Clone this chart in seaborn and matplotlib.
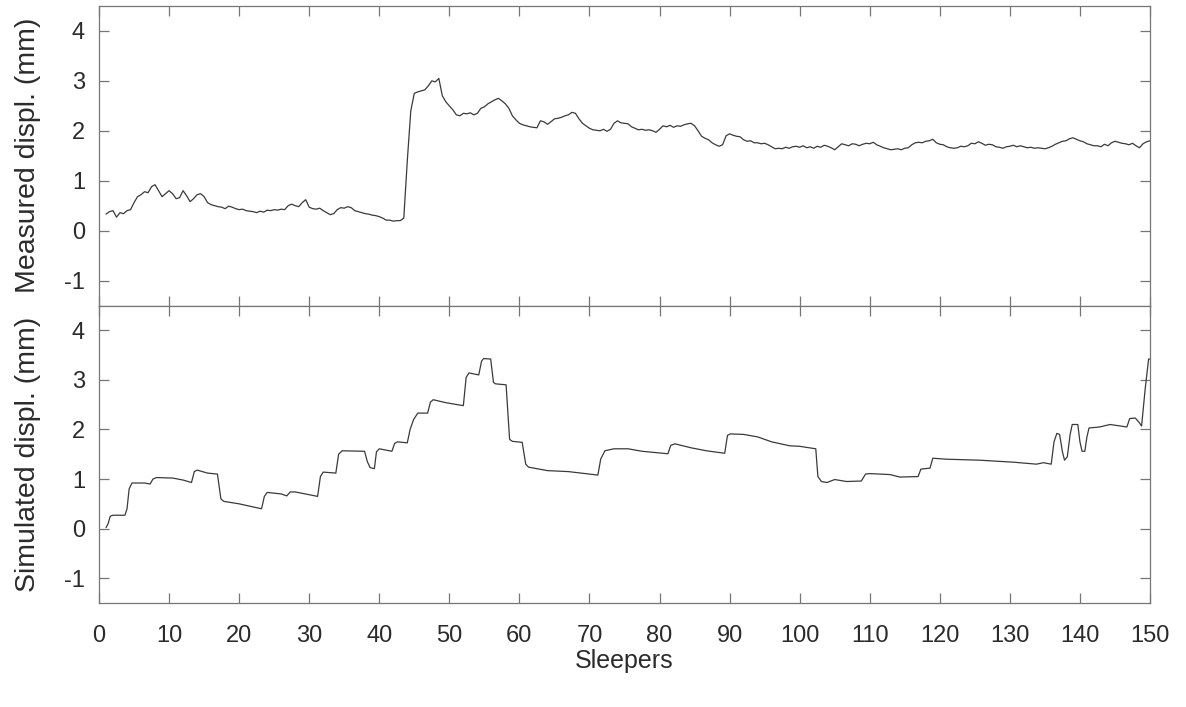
import numpy as np
import pandas as pd
import matplotlib
matplotlib.use("Agg")
import matplotlib.pyplot as plt
import seaborn as sns

# ---------------- data ----------------
meas_x = [1.0 + 0.5 * i for i in range(299)]
meas_y = [
    0.33, 0.38, 0.40, 0.27, 0.36, 0.34, 0.40, 0.42, 0.56, 0.68,
    0.72, 0.78, 0.76, 0.88, 0.92, 0.80, 0.68, 0.74, 0.80, 0.74,
    0.64, 0.66, 0.80, 0.70, 0.58, 0.64, 0.72, 0.74, 0.68, 0.56,
    0.52, 0.50, 0.48, 0.47, 0.44, 0.49, 0.47, 0.44, 0.42, 0.43,
    0.40, 0.39, 0.38, 0.36, 0.39, 0.37, 0.41, 0.40, 0.42, 0.41,
    0.43, 0.42, 0.50, 0.53, 0.50, 0.48, 0.56, 0.62, 0.47, 0.44,
    0.43, 0.45, 0.40, 0.36, 0.32, 0.34, 0.42, 0.46, 0.45, 0.48,
    0.46, 0.40, 0.38, 0.36, 0.34, 0.33, 0.31, 0.30, 0.28, 0.25,
    0.21, 0.21, 0.19, 0.20, 0.20, 0.25, 1.40, 2.40, 2.75, 2.78,
    2.80, 2.82, 2.90, 3.00, 2.98, 3.05, 2.70, 2.58, 2.50, 2.42,
    2.32, 2.30, 2.35, 2.34, 2.36, 2.32, 2.35, 2.45, 2.48, 2.54,
    2.58, 2.62, 2.65, 2.60, 2.54, 2.45, 2.30, 2.22, 2.15, 2.12,
    2.10, 2.08, 2.07, 2.06, 2.20, 2.18, 2.13, 2.18, 2.24, 2.25,
    2.27, 2.30, 2.32, 2.37, 2.35, 2.24, 2.15, 2.10, 2.05, 2.02,
    2.01, 2.00, 2.03, 1.99, 2.03, 2.15, 2.20, 2.16, 2.15, 2.14,
    2.08, 2.05, 2.02, 2.03, 2.01, 2.02, 2.00, 1.97, 2.03, 2.10,
    2.08, 2.11, 2.07, 2.10, 2.09, 2.12, 2.14, 2.15, 2.10, 2.00,
    1.89, 1.85, 1.82, 1.76, 1.72, 1.69, 1.72, 1.90, 1.94, 1.91,
    1.89, 1.88, 1.82, 1.79, 1.80, 1.76, 1.76, 1.74, 1.75, 1.72,
    1.68, 1.64, 1.65, 1.64, 1.67, 1.65, 1.68, 1.69, 1.67, 1.70,
    1.66, 1.68, 1.65, 1.69, 1.67, 1.71, 1.69, 1.66, 1.62, 1.68,
    1.74, 1.72, 1.70, 1.74, 1.73, 1.70, 1.73, 1.75, 1.74, 1.77,
    1.72, 1.69, 1.66, 1.64, 1.62, 1.63, 1.64, 1.62, 1.65, 1.66,
    1.72, 1.76, 1.77, 1.76, 1.79, 1.80, 1.83, 1.76, 1.73, 1.72,
    1.68, 1.66, 1.65, 1.66, 1.69, 1.68, 1.70, 1.75, 1.74, 1.78,
    1.75, 1.71, 1.73, 1.72, 1.68, 1.67, 1.65, 1.68, 1.69, 1.71,
    1.68, 1.70, 1.68, 1.66, 1.67, 1.65, 1.66, 1.65, 1.64, 1.66,
    1.69, 1.73, 1.76, 1.79, 1.80, 1.84, 1.86, 1.83, 1.80, 1.78,
    1.74, 1.72, 1.70, 1.70, 1.68, 1.73, 1.70, 1.76, 1.79, 1.77,
    1.75, 1.74, 1.72, 1.75, 1.70, 1.66, 1.74, 1.78, 1.80,
]

sim_x = [
    1.0, 1.3, 1.6, 2.0, 3.7, 4.0, 4.3, 4.7, 6.5, 7.3, 7.7, 8.2, 10.5, 12.0,
    13.2, 13.6, 14.0, 15.5, 16.9, 17.4, 17.8, 20.0, 23.2, 23.6, 24.0, 26.0,
    26.8, 27.3, 28.0, 31.2, 31.6, 32.0, 33.8, 34.2, 34.7, 37.9, 38.3, 38.7,
    39.3, 39.6, 40.0, 41.8, 42.2, 42.6, 44.0, 44.4, 44.9, 45.5, 46.9, 47.3,
    47.7, 49.5, 52.0, 52.4, 52.8, 54.2, 54.6, 54.9, 55.9, 56.3, 56.6, 58.1,
    58.6, 59.0, 60.4, 60.9, 61.3, 64.0, 67.0, 71.2, 71.6, 72.2, 73.5, 75.5,
    77.5, 81.2, 81.6, 82.2, 84.5, 86.7, 89.3, 89.7, 90.1, 92.0, 94.0, 96.0,
    98.6, 100.0, 102.3, 102.6, 103.1, 103.9, 105.0, 106.7, 108.8, 109.4,
    110.0, 112.9, 114.3, 116.9, 117.3, 118.6, 119.0, 121.0, 125.7, 130.5,
    133.8, 134.8, 135.9, 136.3, 136.7, 137.1, 137.5, 137.8, 138.2, 138.6,
    138.9, 139.7, 140.0, 140.3, 140.7, 141.0, 141.3, 142.8, 144.3, 146.7,
    147.1, 147.9, 148.4, 148.8, 149.3, 149.8, 150.0,
]
sim_y = [
    0.02, 0.10, 0.25, 0.27, 0.27, 0.40, 0.80, 0.92, 0.92, 0.90, 1.00, 1.03, 1.02, 0.98,
    0.93, 1.15, 1.18, 1.12, 1.10, 0.60, 0.55, 0.50, 0.40, 0.65, 0.73, 0.70,
    0.66, 0.74, 0.74, 0.65, 1.05, 1.14, 1.12, 1.50, 1.57, 1.56, 1.35, 1.23,
    1.21, 1.55, 1.61, 1.56, 1.72, 1.75, 1.73, 2.00, 2.20, 2.33, 2.33, 2.55,
    2.60, 2.54, 2.48, 3.05, 3.14, 3.10, 3.38, 3.43, 3.42, 2.95, 2.92, 2.90,
    1.80, 1.76, 1.74, 1.30, 1.24, 1.17, 1.15, 1.08, 1.40, 1.57, 1.61, 1.61,
    1.56, 1.51, 1.68, 1.71, 1.63, 1.57, 1.52, 1.88, 1.91, 1.90, 1.85, 1.75,
    1.67, 1.66, 1.61, 1.05, 0.95, 0.93, 0.99, 0.95, 0.96, 1.10,
    1.11, 1.09, 1.04, 1.05, 1.20, 1.22, 1.42, 1.40, 1.38, 1.34,
    1.30, 1.33, 1.30, 1.75, 1.92, 1.90, 1.55, 1.38, 1.45, 1.90,
    2.10, 2.10, 1.75, 1.56, 1.56, 1.85, 2.03, 2.05, 2.10, 2.05,
    2.22, 2.23, 2.15, 2.07, 2.80, 3.42, 3.42,
]

y_ticks = [4, 3, 2, 1, 0, -1]
x_ticks = [0, 10, 20, 30, 40, 50, 60, 70, 80, 90, 100, 110, 120, 130, 140, 150]
x_label = "Sleepers"
y_label_top = "Measured displ. (mm)"
y_label_bottom = "Simulated displ. (mm)"

# ---------------- style ----------------
sns.set_theme(style="white")
plt.rcParams["font.family"] = ["Liberation Sans", "DejaVu Sans"]
text_col = "#2b2b2b"
spine_col = "#767676"
line_col = "#3a3a3a"

fig = plt.figure(figsize=(11.86, 7.07), dpi=100)
left, right = 99 / 1186, 1150 / 1186
y_top, y_mid, y_bot = 1 - 6 / 707, 1 - 305.5 / 707, 1 - 603 / 707
ax1 = fig.add_axes([left, y_mid, right - left, y_top - y_mid])
ax2 = fig.add_axes([left, y_bot, right - left, y_mid - y_bot], sharex=ax1)

df_m = pd.DataFrame({"x": meas_x, "y": meas_y})
df_s = pd.DataFrame({"x": sim_x, "y": sim_y})
sns.lineplot(data=df_m, x="x", y="y", ax=ax1, color=line_col, linewidth=0.9,
             estimator=None, sort=False)
sns.lineplot(data=df_s, x="x", y="y", ax=ax2, color=line_col, linewidth=0.9,
             estimator=None, sort=False)

for ax, lab in ((ax1, y_label_top), (ax2, y_label_bottom)):
    ax.set_xlim(0, 150)
    ax.set_ylim(-1.5, 4.5)
    ax.set_yticks(y_ticks)
    ax.set_yticklabels([str(t) for t in y_ticks])
    ax.set_xticks(x_ticks)
    ax.set_ylabel(lab, fontsize=20.5, color=text_col, labelpad=17)
    ax.tick_params(axis="both", which="both", direction="in", length=7,
                   width=0.9, color=spine_col, top=True, right=True,
                   bottom=True, left=True, labelsize=17, labelcolor=text_col)
    ax.tick_params(axis="y", pad=10)
    ax.tick_params(axis="x", pad=16)
    for sp in ax.spines.values():
        sp.set_color(spine_col)
        sp.set_linewidth(0.9)
        sp.set_visible(True)

ax1.tick_params(axis="x", labelbottom=False)
ax1.set_xlabel("")
ax2.set_xticklabels([str(t) for t in x_ticks])
ax2.set_xlabel(x_label, fontsize=18, color=text_col, labelpad=1)

fig.savefig("out.png", dpi=100, facecolor="white")
